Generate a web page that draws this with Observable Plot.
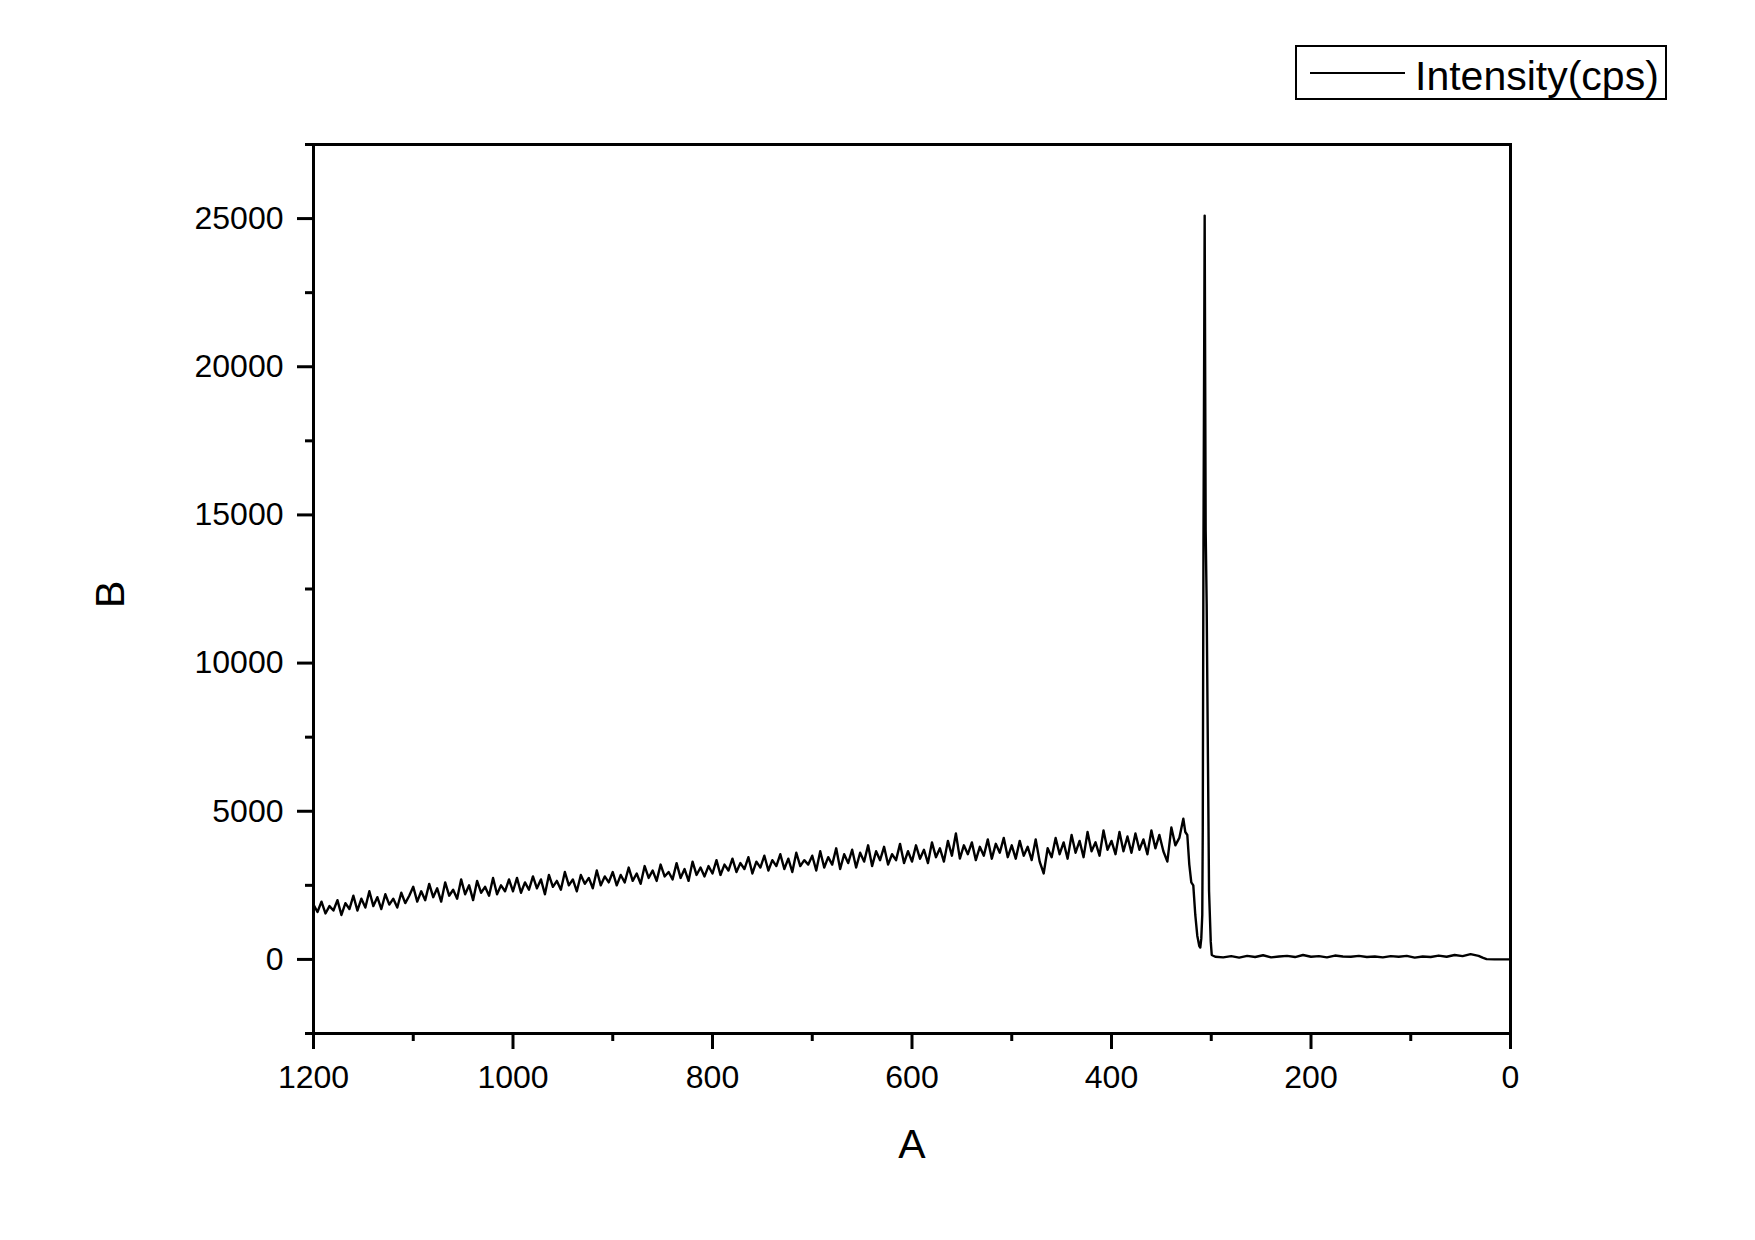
<!DOCTYPE html>
<html><head><meta charset="utf-8">
<script src="https://cdn.jsdelivr.net/npm/d3@7"></script>
<script src="https://cdn.jsdelivr.net/npm/@observablehq/plot@0.6"></script>
<style>
body{margin:0;background:#fff;font-family:"Liberation Sans",Arial,sans-serif;}
#wrap{position:relative;width:1755px;height:1240px;overflow:hidden;}
#legend{position:absolute;left:1295px;top:45px;}
</style></head><body>
<div id="wrap">
<svg id="legend" width="372" height="56" font-family="Liberation Sans, Arial, sans-serif">
 <rect x="1" y="1" width="370" height="53" fill="white" stroke="black" stroke-width="2"/>
 <line x1="15" x2="110" y1="28" y2="28" stroke="black" stroke-width="2"/>
 <text x="120" y="45" font-size="41" fill="black">Intensity(cps)</text>
</svg>
</div>
<script>
// Noisy background region (A from 1200 down to 336)
const noiseA = [
1200,1196,1192,1188,1184,1180,1176,1172,1168,1164,1160,1156,1152,1148,1144,1140,1136,1132,1128,1124,1120,1116,1112,1108,1104,
1100,1096,1092,1088,1084,1080,1076,1072,1068,1064,1060,1056,1052,1048,1044,1040,1036,1032,1028,1024,1020,1016,1012,1008,1004,
1000,996,992,988,984,980,976,972,968,964,960,956,952,948,944,940,936,932,928,924,920,916,912,908,904,
900,896,892,888,884,880,876,872,868,864,860,856,852,848,844,840,836,832,828,824,820,816,812,808,804,
800,796,792,788,784,780,776,772,768,764,760,756,752,748,744,740,736,732,728,724,720,716,712,708,704,
700,696,692,688,684,680,676,672,668,664,660,656,652,648,644,640,636,632,628,624,620,616,612,608,604,
600,596,592,588,584,580,576,572,568,564,560,556,552,548,544,540,536,532,528,524,520,516,512,508,504,
500,496,492,488,484,480,476,472,468,464,460,456,452,448,444,440,436,432,428,424,420,416,412,408,404,
400,396,392,388,384,380,376,372,368,364,360,356,352,348,344,340,336
];
const noiseB = [
1850,1600,1950,1550,1800,1650,2000,1500,1900,1700,2150,1650,2050,1750,2300,1800,2100,1700,2200,1850,2050,1750,2250,1900,2150,
2450,1950,2300,2000,2550,2100,2400,1950,2600,2150,2350,2050,2700,2200,2500,2000,2650,2250,2450,2150,2750,2200,2500,2300,2700,
2300,2750,2250,2600,2350,2800,2400,2700,2200,2850,2450,2650,2350,2950,2500,2700,2300,2850,2550,2750,2400,3000,2500,2800,2600,
2950,2500,2850,2600,3100,2650,2900,2550,3150,2750,3000,2650,3200,2800,2950,2700,3250,2750,3050,2650,3300,2850,3100,2800,3150,
2900,3350,2850,3200,3000,3400,2950,3250,3050,3450,2900,3300,3100,3500,3000,3350,3150,3550,3050,3400,2950,3600,3150,3350,3200,
3500,3000,3650,3100,3450,3200,3750,3050,3550,3250,3700,3100,3600,3300,3850,3150,3650,3350,3800,3200,3550,3350,3900,3250,3650,
3300,3850,3400,3700,3250,3950,3450,3750,3300,4000,3500,4250,3400,3850,3550,3950,3350,3800,3500,4050,3400,3900,3600,4100,3450,
3850,3400,4000,3500,3800,3350,4050,3300,2900,3750,3450,4100,3550,3950,3400,4200,3600,4000,3450,4300,3650,3950,3500,4350,3700,
4000,3550,4300,3650,4150,3600,4250,3700,4050,3550,4350,3750,4200,3650,3300,4450,3850
];
// Edge, dip and sharp peak
const peakA = [332,328,326,324,322,320,318,316,314,312,311,310,309,308.5,307.8,306.6,305.6,304.6,303.8,302.2,300.5,299.5];
const peakB = [4100,4750,4300,4200,3200,2600,2500,1500,800,450,400,700,1500,4400,14000,25100,14500,12000,8700,2300,600,150];
// Flat tail
const tailA = [296,288,280,272,264,256,248,240,232,224,216,208,200,192,184,176,168,160,152,144,136,128,120,112,104,96,88,80,72,64,56,48,40,32,28,24,16,8,0];
const tailB = [90,70,110,60,120,80,140,70,100,120,80,150,90,110,70,130,100,90,120,80,100,70,110,90,120,60,100,80,130,90,150,110,180,120,60,10,0,0,0];

const xMajor = [1200,1000,800,600,400,200,0];
const xMinor = [1100,900,700,500,300,100];
const yMajor = [0,5000,10000,15000,20000,25000];
const yMinor = [-2500,2500,7500,12500,17500,22500,27500];

const xs = [...noiseA, ...peakA, ...tailA];
const ys = [...noiseB, ...peakB, ...tailB];
const data = xs.map((a, i) => ({a, b: ys[i]}));

const font = "Liberation Sans, Arial, sans-serif";
const chart = Plot.plot({
  width: 1755, height: 1240,
  marginLeft: 313, marginRight: 245, marginTop: 144, marginBottom: 207,
  style: {fontFamily: font, background: "white", color: "black"},
  x: {domain: [1200, 0], axis: null},
  y: {domain: [-2500, 27500], axis: null},
  marks: [
    Plot.line(data, {x: "a", y: "b", stroke: "black", strokeWidth: 2.4}),
    Plot.axisX({ticks: xMajor, tickSize: 16, tickPadding: 16, strokeWidth: 3, fontSize: 32, tickFormat: d => String(d), label: null}),
    Plot.axisX({ticks: xMinor, tickSize: 8, strokeWidth: 3, tickFormat: () => "", label: null}),
    Plot.axisY({ticks: yMajor, tickSize: 16, tickPadding: 14, strokeWidth: 3, fontSize: 32, tickFormat: d => String(d), label: null}),
    Plot.axisY({ticks: yMinor, tickSize: 8, strokeWidth: 3, tickFormat: () => "", label: null}),
    Plot.frame({stroke: "black", strokeWidth: 3}),
    Plot.text(["A"], {text: d => d, frameAnchor: "bottom", dy: 111, fontSize: 41, lineAnchor: "middle"}),
    Plot.text(["B"], {text: d => d, frameAnchor: "left", dx: -203, dy: 19, rotate: -90, fontSize: 41, lineAnchor: "middle"})
  ]
});
document.getElementById("wrap").prepend(chart);
</script>
</body></html>
